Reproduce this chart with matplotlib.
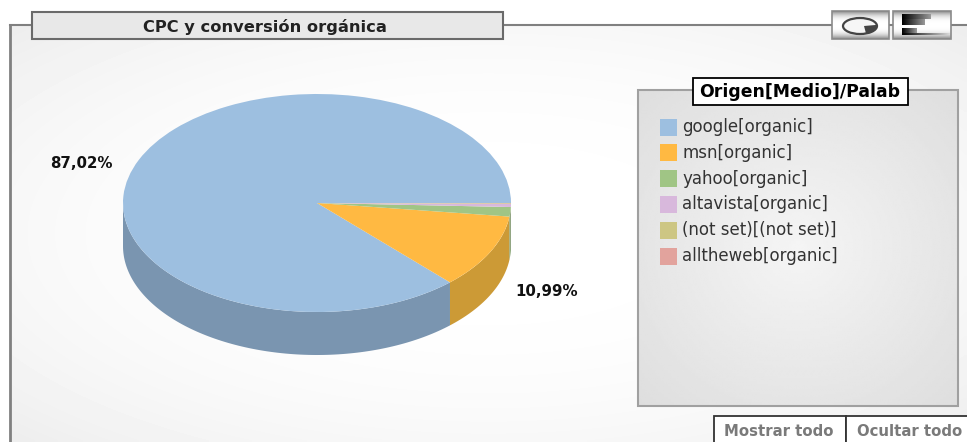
import numpy as np
import matplotlib
matplotlib.use('Agg')
import matplotlib.pyplot as plt
from matplotlib.patches import Rectangle, Ellipse, Wedge

title = 'CPC y conversión orgánica'
legend_title = 'Origen[Medio]/Palab'
names = ['google[organic]', 'msn[organic]', 'yahoo[organic]', 'altavista[organic]', '(not set)[(not set)]', 'alltheweb[organic]']
values = [87.02, 10.99, 1.40, 0.45, 0.10, 0.04]
top_colors = ['#9dbfe0', '#ffb942', '#a0c585', '#d8b8dc', '#cdc683', '#e2a39d']
side_colors = ['#7a95b0', '#cc9a36', '#7f9d6a', '#ac93b0', '#a49e68', '#b4827d']
shown_labels = {0: '87,02%', 1: '10,99%'}
label_pos = {0: (81, 163), 1: (547, 292)}
buttons = ['Mostrar todo', 'Ocultar todo']

W, H = 967, 442
fig = plt.figure(figsize=(W / 100, H / 100), dpi=100)
ax = fig.add_axes([0, 0, 1, 1])
ax.set_xlim(0, W)
ax.set_ylim(H, 0)
ax.axis('off')


def gradient(x0, x1, y0, y1, edge, mid, z, power=1.0):
    # gris en las esquinas, claro en el centro
    yy, xx = np.mgrid[-1:1:120j, -1:1:200j]
    d = np.clip(np.sqrt(xx ** 2 + yy ** 2) / 1.41, 0, 1) ** power
    ax.imshow(mid + (edge - mid) * d, extent=(x0, x1, y1, y0), cmap='gray', vmin=0, vmax=1,
              aspect='auto', zorder=z, interpolation='bilinear')


def box(x0, y0, x1, y1, fc, ec, lw=1.5, z=3):
    ax.add_patch(Rectangle((x0, y0), x1 - x0, y1 - y0, fc=fc, ec=ec, lw=lw, zorder=z))


# panel de fondo
gradient(10, W, 25, H, 0.93, 1.0, 1, power=2.5)
ax.plot([10, 10], [H, 25], color='#808080', lw=2, zorder=2, solid_capstyle='projecting')
ax.plot([10, W], [25, 25], color='#808080', lw=1.5, zorder=2)

# titulo
box(32, 12, 503, 39, '#e8e8e8', '#6a6a6a')
ax.text(265, 27, title, ha='center', va='center', fontsize=11.7, fontweight='bold', color='#222222', zorder=4)

# iconos
shade = 1 - 0.45 * np.abs(np.linspace(-1, 1, 30)) ** 3
for x0, x1 in [(832, 889), (893, 951)]:
    ax.imshow(shade.reshape(-1, 1), extent=(x0, x1, 39, 11), cmap='gray', vmin=0, vmax=1,
              aspect='auto', zorder=3)
    ax.add_patch(Rectangle((x0, 11), x1 - x0, 28, fc='none', ec='#8a8a8a', lw=1.2, zorder=4))
icon = Ellipse((860, 26), 34, 16, fc='#f6f6f6', ec='#444444', lw=1.6, zorder=5)
ax.add_patch(icon)
icon_slice = Wedge((864, 26), 14, -5, 75, fc='#444444', zorder=6)
ax.add_patch(icon_slice)
icon_slice.set_clip_path(icon)
for y0, y1, x1, fade in [(14, 19, 931, 0.6), (20, 25.5, 925, 0.6), (28, 33, 917, 0.6), (33.5, 35, 950, 0.85)]:
    ax.imshow(np.linspace(0, fade, 40).reshape(1, -1), extent=(902, x1, y1, y0), cmap='gray',
              vmin=0, vmax=1, aspect='auto', zorder=5)

# leyenda
gradient(638, 958, 90, 406, 0.87, 0.96, 3)
ax.add_patch(Rectangle((638, 90), 320, 316, fc='none', ec='#a0a0a0', lw=1.5, zorder=4))
box(693, 78, 908, 105, 'white', 'black', lw=1.3, z=5)
ax.text(800, 92, legend_title, ha='center', va='center', fontsize=12.4, fontweight='bold', color='black', zorder=6)
for i, name in enumerate(names):
    y = 127 + i * 25.8
    ax.add_patch(Rectangle((660, y - 8.5), 17, 17, fc=top_colors[i], ec='none', zorder=5))
    ax.text(682, y, name, ha='left', va='center', fontsize=12, color='#333333', zorder=6)

# botones
for (x0, x1), xt, label in zip([(714, 846), (846, 970)], [779, 910], buttons):
    box(x0, 416, x1, H + 5, 'white', '#333333', lw=1.3)
    ax.text(xt, 431, label, ha='center', va='center', fontsize=10.7, fontweight='bold',
            color='#7a7a7a', zorder=5)

ax.set_xlim(0, W)
ax.set_ylim(H, 0)

# tarta: 194x109 px, con 43 px de grosor
pie_ax = fig.add_axes([123 / W, 1 - 312 / H, 388 / W, 218 / H])
depth = 43 / 109
edges = np.cumsum([0] + values) / sum(values) * 360
for i in range(len(values)):
    a0, a1 = max(edges[i], 180), edges[i + 1]
    if a1 <= a0:
        continue
    t = np.radians(np.linspace(a0, a1, 120))
    px = np.r_[np.cos(t), np.cos(t)[::-1]]
    py = np.r_[np.sin(t), np.sin(t)[::-1] - depth]
    pie_ax.fill(px, py, color=side_colors[i], lw=0, clip_on=False, zorder=1)
wedges, _ = pie_ax.pie(values, colors=top_colors, startangle=0, counterclock=True, radius=1)
for w in wedges:
    w.set_zorder(2)
    w.set_clip_on(False)
pie_ax.set_aspect('auto')
pie_ax.set_xlim(-1, 1)
pie_ax.set_ylim(-1, 1)
pie_ax.patch.set_alpha(0)

for i, lab in shown_labels.items():
    x, y = label_pos[i]
    ax.text(x, y, lab, ha='center', va='center', fontsize=10.8, fontweight='bold', color='#111111', zorder=7)

fig.savefig('out.png', dpi=100)
